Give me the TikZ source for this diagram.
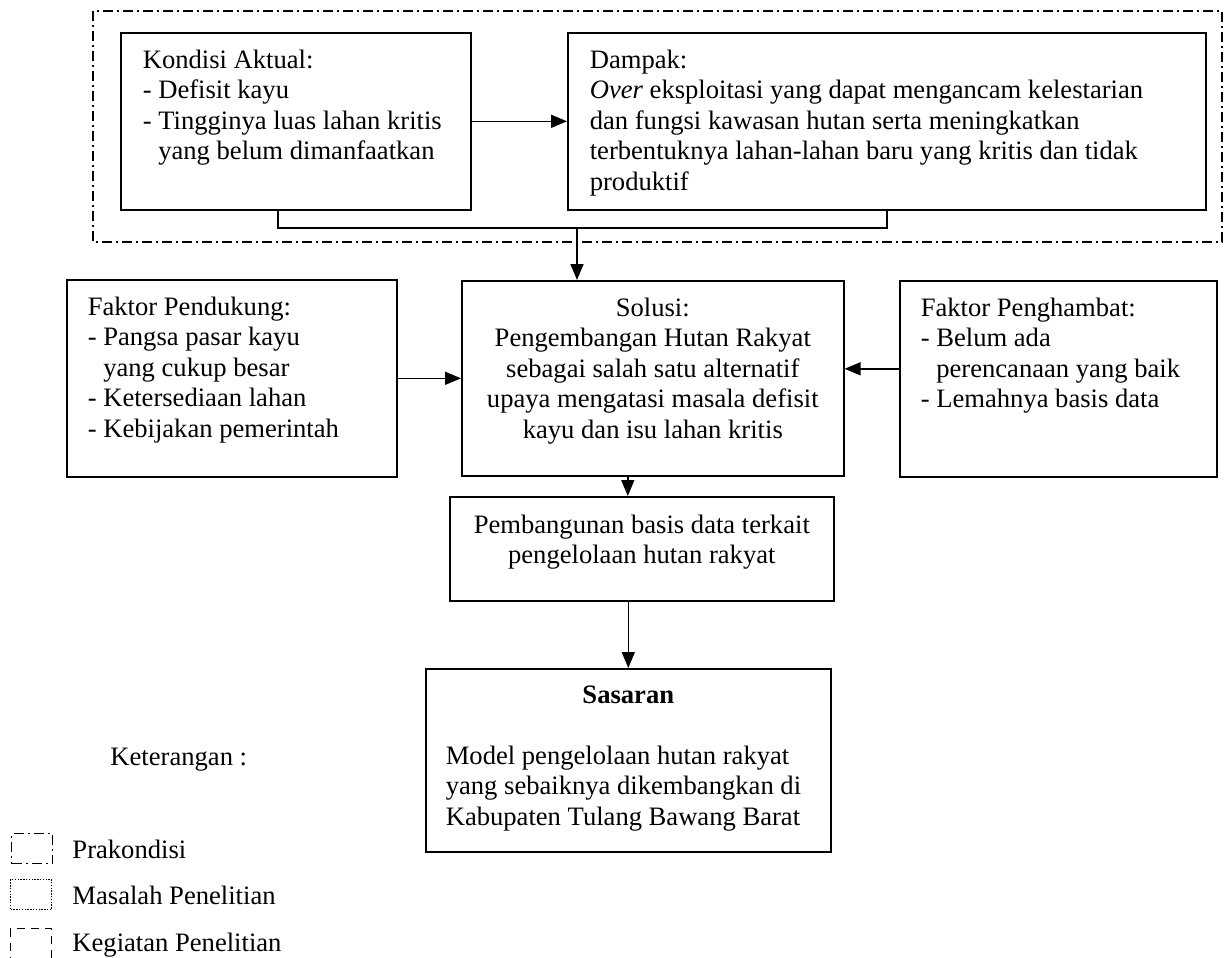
\documentclass[tikz,border=0pt]{standalone}
\usepackage{fontspec}
\setmainfont{Liberation Serif}
\usetikzlibrary{arrows.meta}

\begin{document}
\begin{tikzpicture}[x=0.5pt, y=-0.5pt, >={Triangle[length=8pt,width=6.5pt]}, line width=0.8pt,
        font=\fontsize{13.3pt}{15.25pt}\selectfont,
        box/.style={draw, anchor=north west, inner xsep=10.5pt, inner ysep=8.5pt},
        legendbox/.style={draw, line width=0.6pt, anchor=north west, inner sep=0pt, minimum width=20.5pt, minimum height=15pt},
        prakondisi/.style={dash pattern=on 5pt off 2pt on 1pt off 2pt},
        masalah/.style={dash pattern=on 0.7pt off 0.7pt},
        kegiatan/.style={dash pattern=on 4pt off 3pt}]
        \useasboundingbox (0,0) rectangle (1226,958);

        % prakondisi: kondisi aktual dan dampak
        \draw[prakondisi] (93,11) rectangle (1222,242);
        \node[box, inner xsep=11pt] (kondisi) at (120,32) {\parbox[t][71.5pt][t]{153pt}{\raggedright Kondisi Aktual:\\ - Defisit kayu\\ - Tingginya luas lahan kritis\\ \phantom{- }yang belum dimanfaatkan}};
        \node[box, inner xsep=11pt] (dampak) at (567,32) {\parbox[t][71.5pt][t]{297pt}{\raggedright Dampak:\\ \textit{Over} eksploitasi yang dapat mengancam kelestarian\\ dan fungsi kawasan hutan serta meningkatkan\\ terbentuknya lahan-lahan baru yang kritis dan tidak\\ produktif}};
        \draw[->] (kondisi.east) -- (dampak.west);

        \coordinate (gabung) at (577,228);
        \draw ([xshift=-9pt]kondisi.south) |- (gabung) -| (dampak.south);

        % solusi dan faktor-faktornya
        \node[box] (pendukung) at (66,279) {\parbox[t][81.5pt][t]{144pt}{\raggedright Faktor Pendukung:\\ - Pangsa pasar kayu\\ \phantom{- }yang cukup besar\\ - Ketersediaan lahan\\ - Kebijakan pemerintah}};
        \node[box, inner xsep=5pt] (solusi) at (461,280) {\parbox[t][80.5pt][t]{181pt}{\centering Solusi:\\ Pengembangan Hutan Rakyat\\ sebagai salah satu alternatif\\ upaya mengatasi masala defisit\\ kayu dan isu lahan kritis}};
        \node[box] (penghambat) at (899,280) {\parbox[t][81pt][t]{137.5pt}{\raggedright Faktor Penghambat:\\ - Belum ada\\ \phantom{- }perencanaan yang baik\\ - Lemahnya basis data}};

        \draw[->] (gabung) -- (gabung |- solusi.north);
        \draw[->] (pendukung.east) -- (pendukung.east -| solusi.west);
        \draw[->] ([yshift=5pt]penghambat.west) -- ([yshift=5pt]penghambat.west -| solusi.east);

        % kegiatan dan sasaran
        \node[box, inner xsep=5pt, inner ysep=9pt] (pembangunan) at (449,496) {\parbox[t][34pt][t]{182pt}{\centering Pembangunan basis data terkait\\ pengelolaan hutan rakyat}};
        \node[box, inner xsep=10pt] (sasaran) at (425,668) {\parbox[t][74.5pt][t]{182.5pt}{{\centering\textbf{Sasaran}\par}\vspace{\baselineskip}\raggedright Model pengelolaan hutan rakyat\\ yang sebaiknya dikembangkan di\\ Kabupaten Tulang Bawang Barat}};

        \draw[->] ([xshift=-12.5pt]solusi.south) -- ([xshift=-12.5pt]solusi.south |- pembangunan.north);
        \draw[->] (sasaran.north |- pembangunan.south) -- (sasaran.north);

        % keterangan
        \node[anchor=base west] (keterangan) at (103,765) {Keterangan :};
        \node[legendbox, prakondisi] (lgPra) at (11,833) {};
        \node[anchor=base west] (lgPraTxt) at (65,858) {Prakondisi};
        \node[legendbox, masalah] (lgMsl) at (10,879) {};
        \node[anchor=base west] (lgMslTxt) at (65,904) {Masalah Penelitian};
        \node[legendbox, kegiatan] (lgKgt) at (10,928) {};
        \node[anchor=base west] (lgKgtTxt) at (65,951) {Kegiatan Penelitian};

    \end{tikzpicture}
\end{document}
